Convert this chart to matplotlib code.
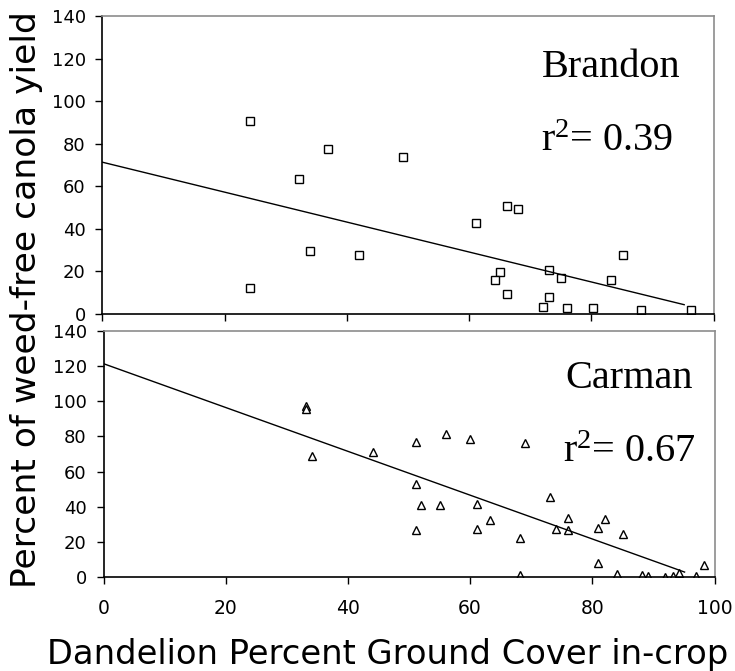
import matplotlib
matplotlib.use("Agg")
import matplotlib.pyplot as plt
import numpy as np

plt.rcParams["mathtext.fontset"] = "custom"
plt.rcParams["mathtext.rm"] = "Liberation Serif"
plt.rcParams["mathtext.it"] = "Liberation Serif"

# ---- data ----
brandon_x = [24.2, 36.9, 49.1, 32.1, 34.0, 42.0, 24.2, 66.2, 68.0, 61.2, 85.2,
             65.0, 73.1, 64.2, 75.1, 83.2, 66.2, 73.1, 72.1, 76.1, 80.2, 88.2, 96.3]
brandon_y = [90.9, 77.4, 73.8, 63.3, 29.8, 27.7, 12.2, 50.9, 49.4, 42.8, 27.7,
             19.9, 20.8, 15.8, 16.8, 15.8, 9.2, 8.1, 3.1, 2.8, 2.8, 1.9, 1.9]
brandon_fit = (71.3, -0.703)      # intercept, slope
brandon_fit_range = [0, 95.2]
brandon_r2 = "0.39"

carman_x = [33.2, 33.2, 34.1, 44.1, 51.1, 51.1, 52.0, 51.1, 56.1, 60.0, 69.0,
            55.1, 61.1, 63.2, 61.1, 68.2, 73.1, 76.1, 74.1, 76.1, 82.0, 81.0,
            85.1, 81.0, 68.2, 84.1, 88.1, 89.1, 91.9, 93.2, 94.2, 96.9, 98.2]
carman_y = [97.3, 95.7, 68.6, 71.1, 76.8, 53.0, 41.2, 26.8, 81.5, 78.3, 76.4,
            41.2, 41.8, 32.5, 27.4, 22.4, 45.8, 33.6, 27.4, 26.8, 33.0, 28.1,
            24.5, 8.2, 1.0, 1.9, 1.2, 0.5, 0.0, 0.5, 2.5, 0.5, 6.7]
carman_fit = (121.4, -1.247)
carman_fit_range = [0, 95.1]
carman_r2 = "0.67"

x_ticks = [0, 20, 40, 60, 80, 100]
y_ticks = [0, 20, 40, 60, 80, 100, 120, 140]
x_label = "Dandelion Percent Ground Cover in-crop"
y_label = "Percent of weed-free canola yield"

# ---- figure ----
W, H = 735, 671
fig = plt.figure(figsize=(W / 100, H / 100), dpi=100)
fig.patch.set_facecolor("white")

def px_axes(left, top, right, bottom):
    return fig.add_axes([left / W, 1 - bottom / H, (right - left) / W, (bottom - top) / H])

ax1 = px_axes(102.5, 16, 713.5, 314)
ax2 = px_axes(103.5, 331, 714.5, 577)

sans = ["DejaVu Sans"]
serif = ["Liberation Serif", "DejaVu Serif"]

def style(ax, show_xlabels):
    ax.set_xlim(0, 100)
    ax.set_ylim(0, 140)
    ax.set_xticks(x_ticks)
    ax.set_yticks(y_ticks)
    ax.set_yticklabels([str(v) for v in y_ticks], fontfamily=sans, fontsize=13)
    if show_xlabels:
        ax.set_xticklabels([str(v) for v in x_ticks], fontfamily=sans, fontsize=13.5)
    else:
        ax.set_xticklabels([])
    ax.tick_params(axis="both", direction="out", length=5, width=1, color="black")
    ax.tick_params(axis="y", pad=7)
    ax.tick_params(axis="x", pad=11)
    for s in ["left", "bottom"]:
        ax.spines[s].set_color("black")
        ax.spines[s].set_linewidth(1.2)
    for s in ["top", "right"]:
        ax.spines[s].set_color("#8c8c8c")
        ax.spines[s].set_linewidth(1.2)

def r2_text(ax, x, y, value):
    ax.text(x, y, r"r$^{\mathregular{2}}$= " + value, transform=ax.transAxes,
            ha="center", va="baseline", fontfamily=serif, fontsize=29)

# Brandon
ax1.plot(brandon_x, brandon_y, linestyle="none", marker="s", markersize=5.5,
         markerfacecolor="white", markeredgecolor="black", markeredgewidth=1.0)
bx = np.array(brandon_fit_range)
ax1.plot(bx, brandon_fit[0] + brandon_fit[1] * bx, color="black", linewidth=1.0)
style(ax1, False)
ax1.text(0.832, 0.795, "Brandon", transform=ax1.transAxes, ha="center",
         va="baseline", fontfamily=serif, fontsize=29)
r2_text(ax1, 0.826, 0.548, brandon_r2)

# Carman
ax2.plot(carman_x, carman_y, linestyle="none", marker="^", markersize=6,
         markerfacecolor="white", markeredgecolor="black", markeredgewidth=1.0)
cx = np.array(carman_fit_range)
ax2.plot(cx, carman_fit[0] + carman_fit[1] * cx, color="black", linewidth=1.0)
style(ax2, True)
ax2.text(0.86, 0.768, "Carman", transform=ax2.transAxes, ha="center",
         va="baseline", fontfamily=serif, fontsize=29)
r2_text(ax2, 0.86, 0.467, carman_r2)

fig.text(388 / W, 1 - 664 / H, x_label, ha="center", va="baseline",
         fontfamily=sans, fontsize=24.3)
fig.text(27 / W, 1 - 300 / H, y_label, ha="center", va="center", rotation=90,
         fontfamily=sans, fontsize=24.8)

fig.savefig("out.png", dpi=100, facecolor="white")
